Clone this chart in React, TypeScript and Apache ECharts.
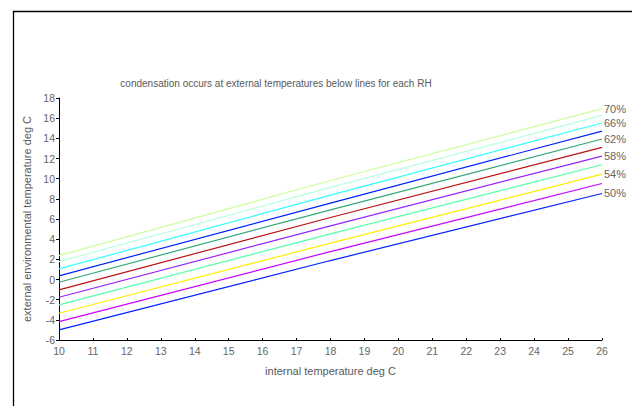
import React, { useEffect, useRef } from "react";
import * as echarts from "echarts";

// Internal temperature (deg C) at which each curve is sampled
const internalTemp = [10, 18, 26];

// External temperature (deg C) below which condensation occurs, per relative humidity
const rhLevels = ["70%", "68%", "66%", "64%", "62%", "60%", "58%", "56%", "54%", "52%", "50%"];
const rh70 = [2.37, 9.82, 16.94];
const rh68 = [1.78, 9.13, 16.28];
const rh66 = [1.05, 8.37, 15.52];
const rh64 = [0.36, 7.58, 14.72];
const rh62 = [-0.27, 6.91, 13.93];
const rh60 = [-1.03, 6.15, 13.1];
const rh58 = [-1.76, 5.32, 12.24];
const rh56 = [-2.52, 4.53, 11.38];
const rh54 = [-3.35, 3.6, 10.45];
const rh52 = [-4.18, 2.77, 9.52];
const rh50 = [-5.0, 1.88, 8.53];

const xTicks = [10, 11, 12, 13, 14, 15, 16, 17, 18, 19, 20, 21, 22, 23, 24, 25, 26];
const yTicks = [-6, -4, -2, 0, 2, 4, 6, 8, 10, 12, 14, 16, 18];

const seriesValues = [rh70, rh68, rh66, rh64, rh62, rh60, rh58, rh56, rh54, rh52, rh50];
const lineColors = [
  "#ccff99",
  "#b8ffe0",
  "#33ffff",
  "#0022ff",
  "#33aa77",
  "#bb1111",
  "#9922ff",
  "#55ffaa",
  "#ffee00",
  "#cc00ff",
  "#0022ff",
];
// Only every other humidity level carries an end label
const labelled = [true, false, true, false, true, false, true, false, true, false, true];

const FONT = "Liberation Sans";

export default function App() {
  const ref = useRef<HTMLDivElement>(null);

  useEffect(() => {
    if (!ref.current) return;
    const chart = echarts.init(ref.current, undefined, { renderer: "svg" });

    const series = seriesValues.map((vals, i) => ({
      name: rhLevels[i],
      type: "line",
      data: internalTemp.map((t, j) => [t, vals[j]]),
      showSymbol: false,
      symbol: "none",
      lineStyle: { color: lineColors[i], width: 1.2 },
      itemStyle: { color: lineColors[i] },
      endLabel: {
        show: labelled[i],
        formatter: rhLevels[i],
        color: "#666",
        fontFamily: FONT,
        fontSize: 11,
        distance: 2,
      },
      silent: true,
    }));

    chart.setOption({
      animation: false,
      backgroundColor: "#fff",
      title: {
        text: "condensation occurs at external temperatures below lines for each RH",
        left: 271,
        textAlign: "center",
        top: 73,
        textStyle: { color: "#5a5a5a", fontFamily: FONT, fontSize: 10, fontWeight: "normal" },
      },
      grid: { left: 59, right: 30, top: 98, bottom: 66 },
      xAxis: {
        type: "value",
        min: xTicks[0],
        max: xTicks[xTicks.length - 1],
        interval: 1,
        name: "internal temperature deg C",
        nameLocation: "middle",
        nameGap: 25,
        nameTextStyle: { color: "#5a5a5a", fontFamily: FONT, fontSize: 11 },
        axisLine: { show: true, onZero: false, lineStyle: { color: "#000", width: 1 } },
        axisTick: { show: true, inside: true, length: 2, lineStyle: { color: "#000" } },
        axisLabel: { color: "#666", fontFamily: FONT, fontSize: 10.5, margin: 5 },
        splitLine: { show: false },
      },
      yAxis: {
        type: "value",
        min: yTicks[0],
        max: yTicks[yTicks.length - 1],
        interval: 2,
        name: "external environmental temperature deg C",
        nameLocation: "middle",
        nameGap: 22,
        nameTextStyle: { color: "#5a5a5a", fontFamily: FONT, fontSize: 11 },
        axisLine: { show: true, onZero: false, lineStyle: { color: "#000", width: 1 } },
        axisTick: { show: true, length: 3, lineStyle: { color: "#000" } },
        axisLabel: { color: "#666", fontFamily: FONT, fontSize: 10.5, margin: 4 },
        splitLine: { show: false },
      },
      graphic: [
        {
          type: "rect",
          shape: { x: 13.5, y: 11.5, width: 700, height: 500 },
          style: { fill: "none", stroke: "#000", lineWidth: 1.3 },
          silent: true,
        },
      ],
      series,
    });

    return () => chart.dispose();
  }, []);

  return (
    <div
      ref={ref}
      style={{ position: "fixed", left: 0, top: 0, width: 632, height: 406 }}
    />
  );
}
